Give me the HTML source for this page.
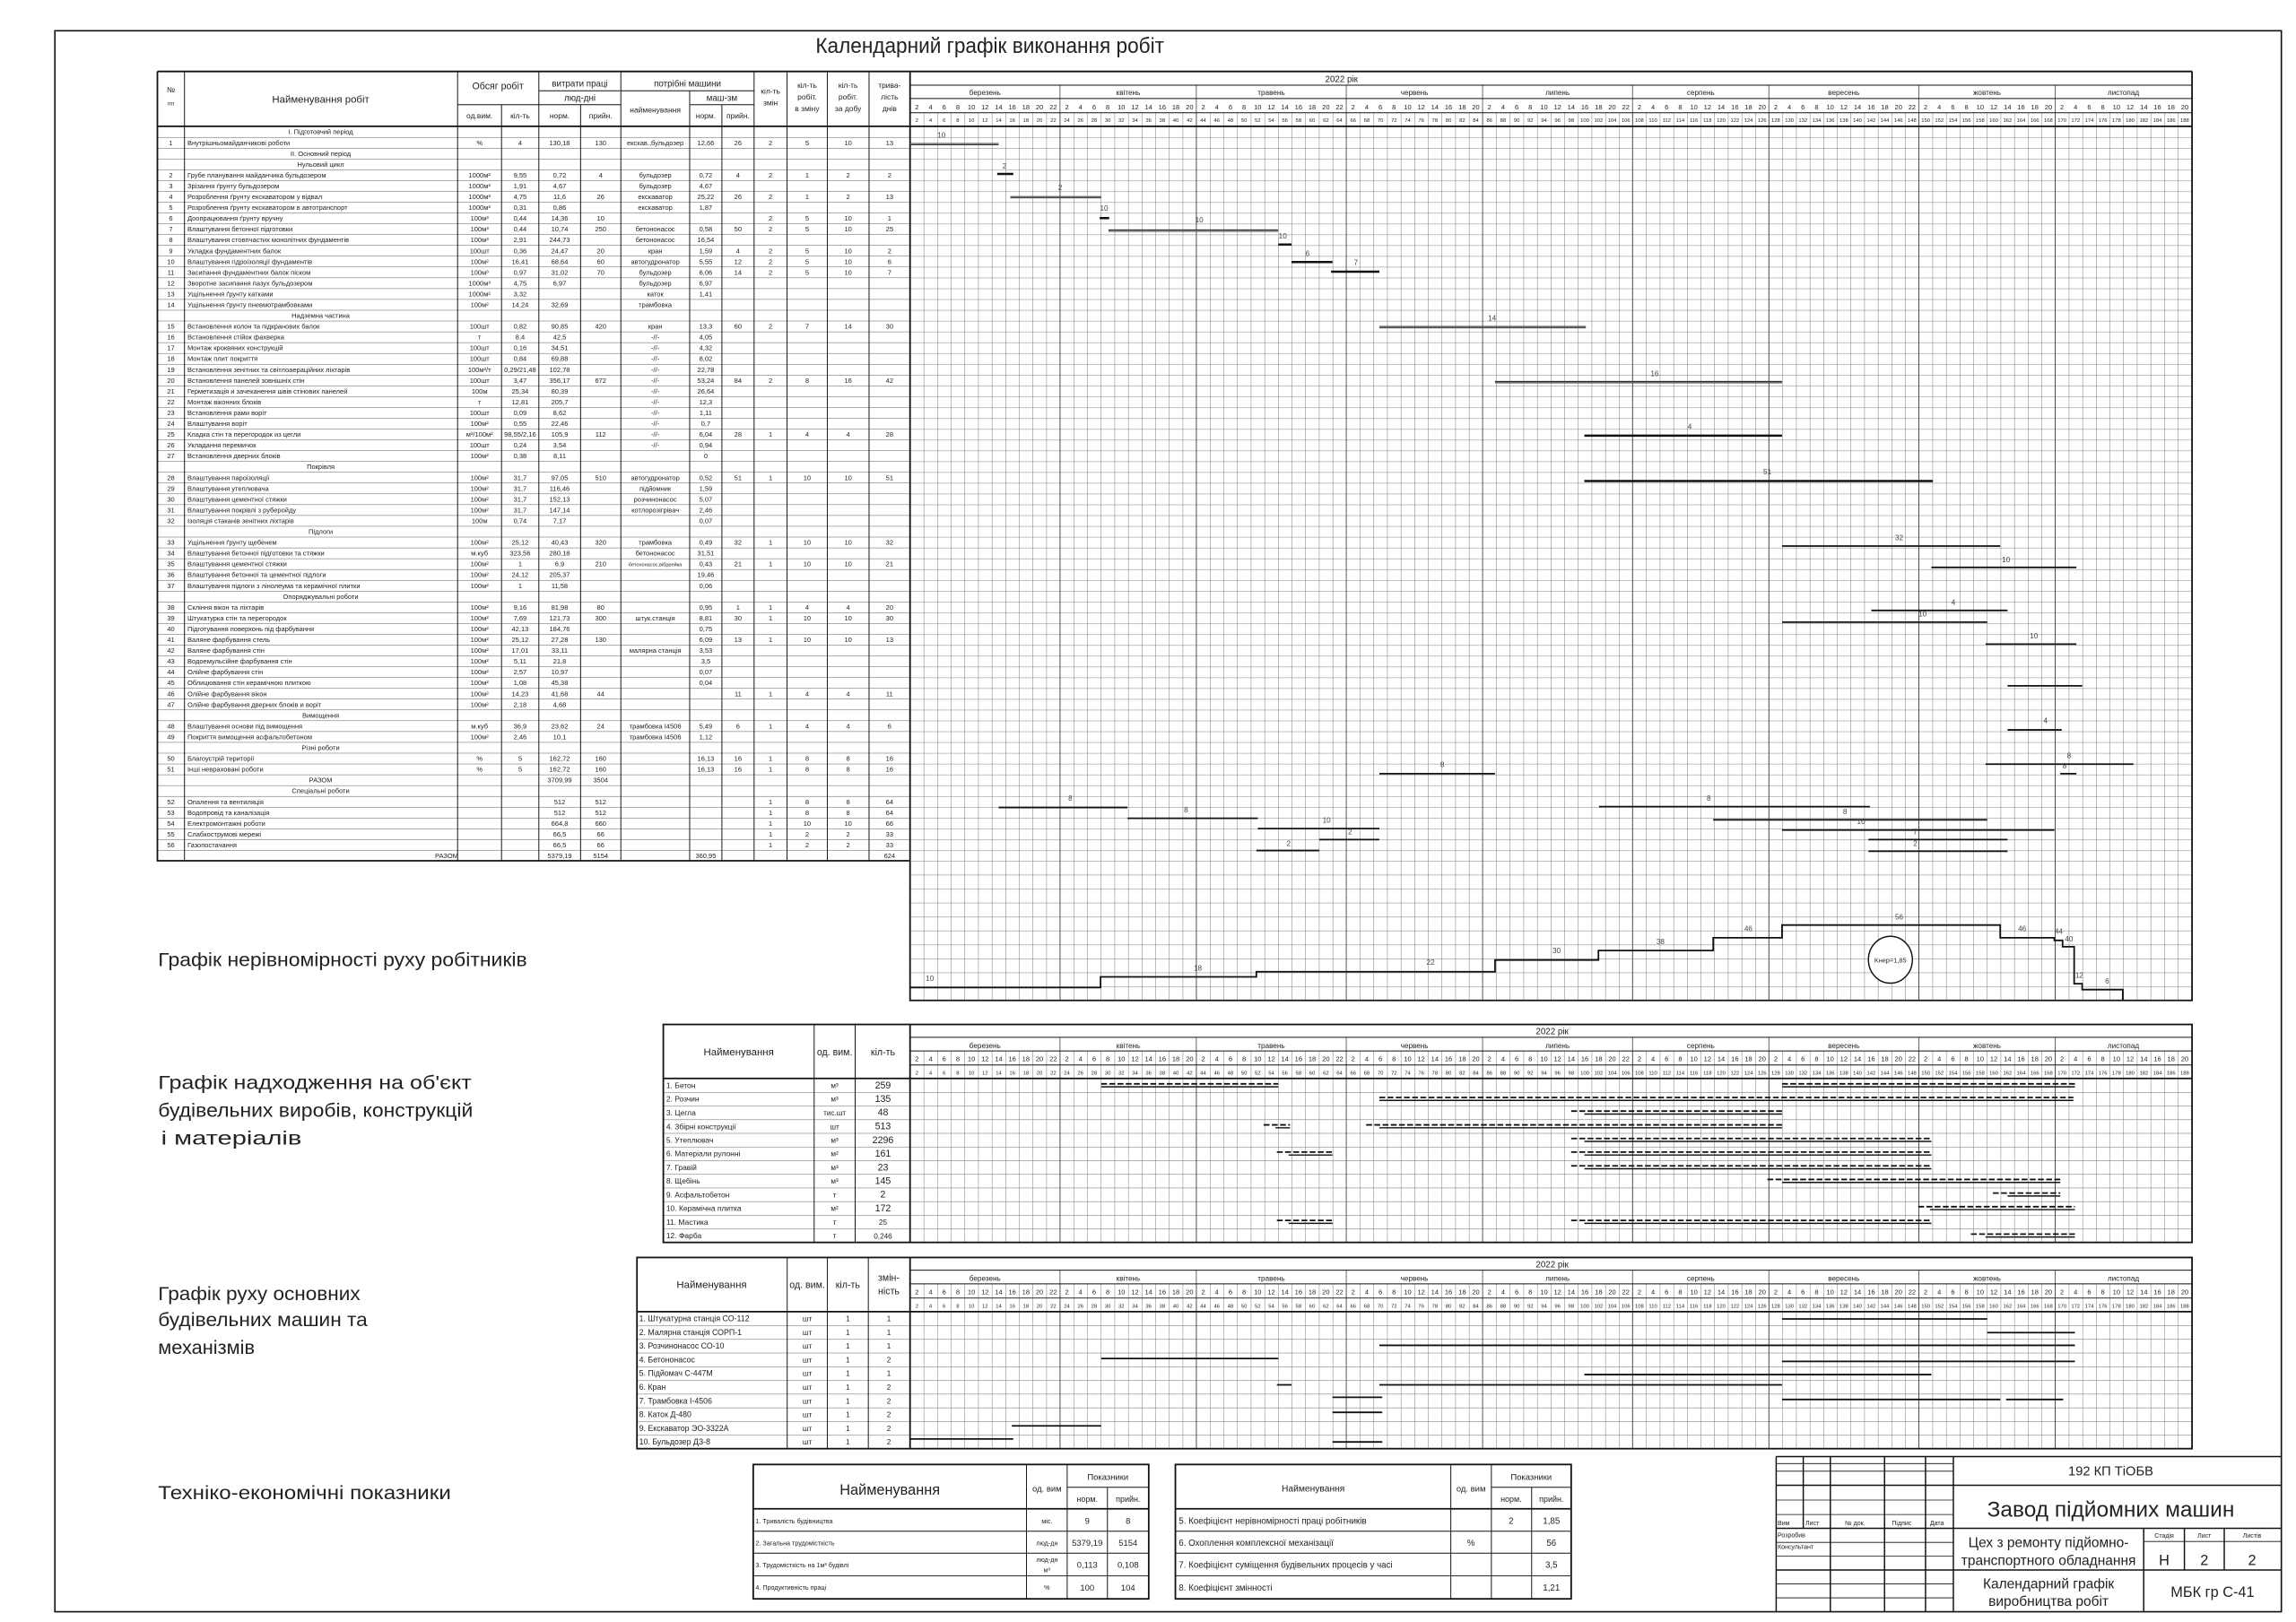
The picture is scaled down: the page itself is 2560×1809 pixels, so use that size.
<!DOCTYPE html>
<html><head><meta charset="utf-8"><style>
html,body{margin:0;padding:0;background:#fff}
svg{display:block}
text{font-family:"Liberation Sans Narrow","Liberation Sans","DejaVu Sans",sans-serif;fill:#222}
.b text{font-size:4.6px;text-anchor:middle}
.b .s{text-anchor:start}
.n text{font-size:4.6px;text-anchor:middle}
.n2 text{font-size:3.6px;text-anchor:middle}
.m text{font-size:5px;text-anchor:middle}
.c{text-anchor:middle}
.lb text{font-size:5px;text-anchor:middle;fill:#444}
</style></head><body>
<svg xmlns="http://www.w3.org/2000/svg" width="2560" height="1809" viewBox="0 0 1568 1108">
<defs>
<pattern id="vcol" x="621.5" y="0" width="9.31" height="10" patternUnits="userSpaceOnUse"><rect x="0" y="0" width="0.3" height="10" fill="#777"/></pattern>
<pattern id="rowsT" x="0" y="86.3" width="10" height="7.38" patternUnits="userSpaceOnUse"><rect x="0" y="0" width="10" height="0.3" fill="#555"/></pattern>
<pattern id="rowsG" x="0" y="86.3" width="10" height="7.38" patternUnits="userSpaceOnUse"><rect x="0" y="0" width="10" height="0.45" fill="#aaa"/></pattern>
<pattern id="rowsW" x="0" y="588" width="10" height="9.54" patternUnits="userSpaceOnUse"><rect x="0" y="0" width="10" height="0.4" fill="#999"/></pattern>
<pattern id="rowsM" x="0" y="736.7" width="10" height="9.33" patternUnits="userSpaceOnUse"><rect x="0" y="0" width="10" height="0.35" fill="#777"/></pattern>
<pattern id="rowsK" x="0" y="896" width="10" height="9.36" patternUnits="userSpaceOnUse"><rect x="0" y="0" width="10" height="0.35" fill="#777"/></pattern>
</defs>

<!-- frame -->
<rect x="37.5" y="21" width="1520.5" height="1080" fill="none" stroke="#111" stroke-width="1"/>
<text x="557" y="36" font-size="15" textLength="238" lengthAdjust="spacingAndGlyphs">Календарний графік виконання робіт</text>

<!-- ===== MAIN TABLE ===== -->
<rect x="107.5" y="86.3" width="514" height="501.7" fill="url(#rowsT)"/>
<rect x="621.5" y="86.3" width="875.5" height="501.7" fill="url(#rowsG)"/>
<rect x="621.5" y="588" width="875.5" height="95.4" fill="url(#rowsW)"/>
<rect x="621.5" y="77" width="875.5" height="606.4" fill="url(#vcol)"/>
<g stroke="#444" stroke-width="0.5">
<path d="M723.9 58.2V683.4M817 58.2V683.4M919.4 58.2V683.4M1012.5 58.2V683.4M1114.9 58.2V683.4M1208 58.2V683.4M1310.4 58.2V683.4M1403.5 58.2V683.4"/>
</g>
<g stroke="#111" stroke-width="0.6" fill="none">
<path d="M107.5 48.8H1497M107.5 86.3H1497M368 62H515M312.5 71.5H424M471 71.5H515M621.5 58.2H1497M621.5 67.3H1497M621.5 77H1497"/>
<path d="M126 48.8V588M312.5 48.8V588M342.5 71.5V588M368 48.8V588M396.5 71.5V588M424 48.8V588M471 62V588M493 71.5V588M515 48.8V588M537.5 48.8V588M565 48.8V588M593.5 48.8V588"/>
</g>
<g stroke="#111" stroke-width="1.1" fill="none">
<path d="M107.5 48.8V588H621.5M621.5 48.8V683.4H1497V48.8M107.5 48.8H1497M107.5 86.3H1497"/>
</g>
<g font-size="5.2">
<text x="116.7" y="63" class="c">№</text><text x="116.7" y="72" class="c" font-size="4">пп</text>
<text x="219" y="70" class="c" font-size="7">Найменування робіт</text>
<text x="340" y="61" class="c" font-size="6.5">Обсяг робіт</text>
<text x="327.5" y="81" class="c">од.вим.</text><text x="355.2" y="81" class="c">кіл-ть</text>
<text x="396" y="59" class="c" font-size="6">витрати праці</text>
<text x="396" y="69" class="c" font-size="6">люд-дні</text>
<text x="382.2" y="81" class="c">норм.</text><text x="410.2" y="81" class="c">прийн.</text>
<text x="469.5" y="59" class="c" font-size="6">потрібні машини</text>
<text x="447.5" y="77" class="c">найменування</text>
<text x="493" y="69" class="c" font-size="6">маш-зм</text>
<text x="482" y="81" class="c">норм.</text><text x="504" y="81" class="c">прийн.</text>
<text x="526.2" y="64" class="c">кіл-ть</text><text x="526.2" y="72" class="c">змін</text>
<text x="551.2" y="60" class="c">кіл-ть</text><text x="551.2" y="68" class="c">робіт.</text><text x="551.2" y="76" class="c">в зміну</text>
<text x="579.2" y="60" class="c">кіл-ть</text><text x="579.2" y="68" class="c">робіт.</text><text x="579.2" y="76" class="c">за добу</text>
<text x="607.5" y="60" class="c">трива-</text><text x="607.5" y="68" class="c">лість</text><text x="607.5" y="76" class="c">днів</text>
</g>
<text x="905" y="56" font-size="6">2022 рік</text>

<!-- month names main -->
<g class="m" id="mn1">
<text x="672.7" y="65">березень</text><text x="770.5" y="65">квітень</text><text x="868.2" y="65">травень</text><text x="966" y="65">червень</text><text x="1063.7" y="65">липень</text><text x="1161.5" y="65">серпень</text><text x="1259.2" y="65">вересень</text><text x="1357" y="65">жовтень</text><text x="1450.1" y="65">листопад</text>
</g>
<g class="n" transform="translate(0,74.6)">
<text x="626.2">2</text><text x="635.5">4</text><text x="644.8">6</text><text x="654.1">8</text><text x="663.4">10</text><text x="672.7">12</text><text x="682.0">14</text><text x="691.3">16</text><text x="700.6">18</text><text x="709.9">20</text><text x="719.3">22</text>
<text x="728.6">2</text><text x="737.9">4</text><text x="747.2">6</text><text x="756.5">8</text><text x="765.8">10</text><text x="775.1">12</text><text x="784.4">14</text><text x="793.7">16</text><text x="803.0">18</text><text x="812.4">20</text>
<text x="821.7">2</text><text x="831.0">4</text><text x="840.3">6</text><text x="849.6">8</text><text x="858.9">10</text><text x="868.2">12</text><text x="877.5">14</text><text x="886.8">16</text><text x="896.1">18</text><text x="905.5">20</text><text x="914.8">22</text>
<text x="924.1">2</text><text x="933.4">4</text><text x="942.7">6</text><text x="952.0">8</text><text x="961.3">10</text><text x="970.6">12</text><text x="979.9">14</text><text x="989.2">16</text><text x="998.6">18</text><text x="1007.9">20</text>
<text x="1017.2">2</text><text x="1026.5">4</text><text x="1035.8">6</text><text x="1045.1">8</text><text x="1054.4">10</text><text x="1063.7">12</text><text x="1073.0">14</text><text x="1082.3">16</text><text x="1091.7">18</text><text x="1101.0">20</text><text x="1110.3">22</text>
<text x="1119.6">2</text><text x="1128.9">4</text><text x="1138.2">6</text><text x="1147.5">8</text><text x="1156.8">10</text><text x="1166.1">12</text><text x="1175.4">14</text><text x="1184.8">16</text><text x="1194.1">18</text><text x="1203.4">20</text>
<text x="1212.7">2</text><text x="1222.0">4</text><text x="1231.3">6</text><text x="1240.6">8</text><text x="1249.9">10</text><text x="1259.2">12</text><text x="1268.5">14</text><text x="1277.9">16</text><text x="1287.2">18</text><text x="1296.5">20</text><text x="1305.8">22</text>
<text x="1315.1">2</text><text x="1324.4">4</text><text x="1333.7">6</text><text x="1343.0">8</text><text x="1352.3">10</text><text x="1361.6">12</text><text x="1371.0">14</text><text x="1380.3">16</text><text x="1389.6">18</text><text x="1398.9">20</text>
<text x="1408.2">2</text><text x="1417.5">4</text><text x="1426.8">6</text><text x="1436.1">8</text><text x="1445.4">10</text><text x="1454.7">12</text><text x="1464.1">14</text><text x="1473.4">16</text><text x="1482.7">18</text><text x="1492.0">20</text>
</g>
<g class="n2" transform="translate(0,83.2)">
<text x="626.2">2</text><text x="635.5">4</text><text x="644.8">6</text><text x="654.1">8</text><text x="663.4">10</text><text x="672.7">12</text><text x="682.0">14</text><text x="691.3">16</text><text x="700.6">18</text><text x="709.9">20</text><text x="719.3">22</text><text x="728.6">24</text><text x="737.9">26</text><text x="747.2">28</text><text x="756.5">30</text><text x="765.8">32</text><text x="775.1">34</text><text x="784.4">36</text><text x="793.7">38</text><text x="803.0">40</text><text x="812.4">42</text><text x="821.7">44</text><text x="831.0">46</text><text x="840.3">48</text><text x="849.6">50</text><text x="858.9">52</text><text x="868.2">54</text><text x="877.5">56</text><text x="886.8">58</text><text x="896.1">60</text><text x="905.5">62</text><text x="914.8">64</text><text x="924.1">66</text><text x="933.4">68</text><text x="942.7">70</text><text x="952.0">72</text><text x="961.3">74</text><text x="970.6">76</text><text x="979.9">78</text><text x="989.2">80</text><text x="998.6">82</text><text x="1007.9">84</text><text x="1017.2">86</text><text x="1026.5">88</text><text x="1035.8">90</text><text x="1045.1">92</text><text x="1054.4">94</text><text x="1063.7">96</text><text x="1073.0">98</text><text x="1082.3">100</text><text x="1091.7">102</text><text x="1101.0">104</text><text x="1110.3">106</text><text x="1119.6">108</text><text x="1128.9">110</text><text x="1138.2">112</text><text x="1147.5">114</text><text x="1156.8">116</text><text x="1166.1">118</text><text x="1175.4">120</text><text x="1184.8">122</text><text x="1194.1">124</text><text x="1203.4">126</text><text x="1212.7">128</text><text x="1222.0">130</text><text x="1231.3">132</text><text x="1240.6">134</text><text x="1249.9">136</text><text x="1259.2">138</text><text x="1268.5">140</text><text x="1277.9">142</text><text x="1287.2">144</text><text x="1296.5">146</text><text x="1305.8">148</text><text x="1315.1">150</text><text x="1324.4">152</text><text x="1333.7">154</text><text x="1343.0">156</text><text x="1352.3">158</text><text x="1361.6">160</text><text x="1371.0">162</text><text x="1380.3">164</text><text x="1389.6">166</text><text x="1398.9">168</text><text x="1408.2">170</text><text x="1417.5">172</text><text x="1426.8">174</text><text x="1436.1">176</text><text x="1445.4">178</text><text x="1454.7">180</text><text x="1464.1">182</text><text x="1473.4">184</text><text x="1482.7">186</text><text x="1492.0">188</text>
</g>

<!-- table body -->
<g class="b">
<text y="91.7" x="219">І. Підготовчий період</text>
<text y="99.08"><tspan x="116.7">1</tspan><tspan x="128" class="s">Внутрішньомайданчикові роботи</tspan><tspan x="327.5">%</tspan><tspan x="355.2">4</tspan><tspan x="382.2">130,18</tspan><tspan x="410.2">130</tspan><tspan x="447.5">екскав.,бульдозер</tspan><tspan x="482">12,66</tspan><tspan x="504">26</tspan><tspan x="526.2">2</tspan><tspan x="551.2">5</tspan><tspan x="579.2">10</tspan><tspan x="607.5">13</tspan></text>
<text y="106.46" x="219">ІІ. Основний період</text>
<text y="113.84" x="219">Нульовий цикл</text>
<text y="121.22"><tspan x="116.7">2</tspan><tspan x="128" class="s">Грубе планування майданчика бульдозером</tspan><tspan x="327.5">1000м²</tspan><tspan x="355.2">9,55</tspan><tspan x="382.2">0,72</tspan><tspan x="410.2">4</tspan><tspan x="447.5">бульдозер</tspan><tspan x="482">0,72</tspan><tspan x="504">4</tspan><tspan x="526.2">2</tspan><tspan x="551.2">1</tspan><tspan x="579.2">2</tspan><tspan x="607.5">2</tspan></text>
<text y="128.6"><tspan x="116.7">3</tspan><tspan x="128" class="s">Зрізання ґрунту бульдозером</tspan><tspan x="327.5">1000м³</tspan><tspan x="355.2">1,91</tspan><tspan x="382.2">4,67</tspan><tspan x="447.5">бульдозер</tspan><tspan x="482">4,67</tspan></text>
<text y="135.98"><tspan x="116.7">4</tspan><tspan x="128" class="s">Розроблення ґрунту екскаватором у відвал</tspan><tspan x="327.5">1000м³</tspan><tspan x="355.2">4,75</tspan><tspan x="382.2">11,6</tspan><tspan x="410.2">26</tspan><tspan x="447.5">екскаватор</tspan><tspan x="482">25,22</tspan><tspan x="504">26</tspan><tspan x="526.2">2</tspan><tspan x="551.2">1</tspan><tspan x="579.2">2</tspan><tspan x="607.5">13</tspan></text>
<text y="143.36"><tspan x="116.7">5</tspan><tspan x="128" class="s">Розроблення ґрунту екскаватором в автотранспорт</tspan><tspan x="327.5">1000м³</tspan><tspan x="355.2">0,31</tspan><tspan x="382.2">0,86</tspan><tspan x="447.5">екскаватор</tspan><tspan x="482">1,87</tspan></text>
<text y="150.74"><tspan x="116.7">6</tspan><tspan x="128" class="s">Доопрацювання ґрунту вручну</tspan><tspan x="327.5">100м³</tspan><tspan x="355.2">0,44</tspan><tspan x="382.2">14,36</tspan><tspan x="410.2">10</tspan><tspan x="526.2">2</tspan><tspan x="551.2">5</tspan><tspan x="579.2">10</tspan><tspan x="607.5">1</tspan></text>
<text y="158.12"><tspan x="116.7">7</tspan><tspan x="128" class="s">Влаштування бетонної підготовки</tspan><tspan x="327.5">100м³</tspan><tspan x="355.2">0,44</tspan><tspan x="382.2">10,74</tspan><tspan x="410.2">250</tspan><tspan x="447.5">бетононасос</tspan><tspan x="482">0,58</tspan><tspan x="504">50</tspan><tspan x="526.2">2</tspan><tspan x="551.2">5</tspan><tspan x="579.2">10</tspan><tspan x="607.5">25</tspan></text>
<text y="165.5"><tspan x="116.7">8</tspan><tspan x="128" class="s">Влаштування стовпчастих монолітних фундаментів</tspan><tspan x="327.5">100м³</tspan><tspan x="355.2">2,91</tspan><tspan x="382.2">244,73</tspan><tspan x="447.5">бетононасос</tspan><tspan x="482">16,54</tspan></text>
<text y="172.88"><tspan x="116.7">9</tspan><tspan x="128" class="s">Укладка фундаментних балок</tspan><tspan x="327.5">100шт</tspan><tspan x="355.2">0,36</tspan><tspan x="382.2">24,47</tspan><tspan x="410.2">20</tspan><tspan x="447.5">кран</tspan><tspan x="482">1,59</tspan><tspan x="504">4</tspan><tspan x="526.2">2</tspan><tspan x="551.2">5</tspan><tspan x="579.2">10</tspan><tspan x="607.5">2</tspan></text>
<text y="180.26"><tspan x="116.7">10</tspan><tspan x="128" class="s">Влаштування гідроізоляції фундаментів</tspan><tspan x="327.5">100м²</tspan><tspan x="355.2">16,41</tspan><tspan x="382.2">68,64</tspan><tspan x="410.2">60</tspan><tspan x="447.5">автогудронатор</tspan><tspan x="482">5,55</tspan><tspan x="504">12</tspan><tspan x="526.2">2</tspan><tspan x="551.2">5</tspan><tspan x="579.2">10</tspan><tspan x="607.5">6</tspan></text>
<text y="187.64"><tspan x="116.7">11</tspan><tspan x="128" class="s">Засипання фундаментних балок піском</tspan><tspan x="327.5">100м³</tspan><tspan x="355.2">0,97</tspan><tspan x="382.2">31,02</tspan><tspan x="410.2">70</tspan><tspan x="447.5">бульдозер</tspan><tspan x="482">6,06</tspan><tspan x="504">14</tspan><tspan x="526.2">2</tspan><tspan x="551.2">5</tspan><tspan x="579.2">10</tspan><tspan x="607.5">7</tspan></text>
<text y="195.02"><tspan x="116.7">12</tspan><tspan x="128" class="s">Зворотне засипання пазух бульдозером</tspan><tspan x="327.5">1000м³</tspan><tspan x="355.2">4,75</tspan><tspan x="382.2">6,97</tspan><tspan x="447.5">бульдозер</tspan><tspan x="482">6,97</tspan></text>
<text y="202.4"><tspan x="116.7">13</tspan><tspan x="128" class="s">Ущільнення ґрунту катками</tspan><tspan x="327.5">1000м²</tspan><tspan x="355.2">3,32</tspan><tspan x="447.5">каток</tspan><tspan x="482">1,41</tspan></text>
<text y="209.78"><tspan x="116.7">14</tspan><tspan x="128" class="s">Ущільнення ґрунту пневмотрамбовками</tspan><tspan x="327.5">100м²</tspan><tspan x="355.2">14,24</tspan><tspan x="382.2">32,69</tspan><tspan x="447.5">трамбовка</tspan></text>
<text y="217.16" x="219">Надземна частина</text>
<text y="224.54"><tspan x="116.7">15</tspan><tspan x="128" class="s">Встановлення колон та підкранових балок</tspan><tspan x="327.5">100шт</tspan><tspan x="355.2">0,82</tspan><tspan x="382.2">90,85</tspan><tspan x="410.2">420</tspan><tspan x="447.5">кран</tspan><tspan x="482">13,3</tspan><tspan x="504">60</tspan><tspan x="526.2">2</tspan><tspan x="551.2">7</tspan><tspan x="579.2">14</tspan><tspan x="607.5">30</tspan></text>
<text y="231.92"><tspan x="116.7">16</tspan><tspan x="128" class="s">Встановлення стійок фахверка</tspan><tspan x="327.5">т</tspan><tspan x="355.2">8,4</tspan><tspan x="382.2">42,5</tspan><tspan x="447.5">-//-</tspan><tspan x="482">4,05</tspan></text>
<text y="239.3"><tspan x="116.7">17</tspan><tspan x="128" class="s">Монтаж кроквяних конструкцій</tspan><tspan x="327.5">100шт</tspan><tspan x="355.2">0,16</tspan><tspan x="382.2">34,51</tspan><tspan x="447.5">-//-</tspan><tspan x="482">4,32</tspan></text>
<text y="246.68"><tspan x="116.7">18</tspan><tspan x="128" class="s">Монтаж плит покриття</tspan><tspan x="327.5">100шт</tspan><tspan x="355.2">0,84</tspan><tspan x="382.2">69,88</tspan><tspan x="447.5">-//-</tspan><tspan x="482">8,02</tspan></text>
<text y="254.06"><tspan x="116.7">19</tspan><tspan x="128" class="s">Встановлення зенітних та світлоаераційних ліхтарів</tspan><tspan x="327.5">100м²/т</tspan><tspan x="355.2">0,29/21,48</tspan><tspan x="382.2">102,78</tspan><tspan x="447.5">-//-</tspan><tspan x="482">22,78</tspan></text>
<text y="261.44"><tspan x="116.7">20</tspan><tspan x="128" class="s">Встановлення панелей зовнішніх стін</tspan><tspan x="327.5">100шт</tspan><tspan x="355.2">3,47</tspan><tspan x="382.2">356,17</tspan><tspan x="410.2">672</tspan><tspan x="447.5">-//-</tspan><tspan x="482">53,24</tspan><tspan x="504">84</tspan><tspan x="526.2">2</tspan><tspan x="551.2">8</tspan><tspan x="579.2">16</tspan><tspan x="607.5">42</tspan></text>
<text y="268.82"><tspan x="116.7">21</tspan><tspan x="128" class="s">Герметизація и зачеканення швів стінових панелей</tspan><tspan x="327.5">100м</tspan><tspan x="355.2">25,34</tspan><tspan x="382.2">80,39</tspan><tspan x="447.5">-//-</tspan><tspan x="482">26,64</tspan></text>
<text y="276.2"><tspan x="116.7">22</tspan><tspan x="128" class="s">Монтаж віконних блоків</tspan><tspan x="327.5">т</tspan><tspan x="355.2">12,81</tspan><tspan x="382.2">205,7</tspan><tspan x="447.5">-//-</tspan><tspan x="482">12,3</tspan></text>
<text y="283.58"><tspan x="116.7">23</tspan><tspan x="128" class="s">Встановлення рами воріт</tspan><tspan x="327.5">100шт</tspan><tspan x="355.2">0,09</tspan><tspan x="382.2">8,62</tspan><tspan x="447.5">-//-</tspan><tspan x="482">1,11</tspan></text>
<text y="290.96"><tspan x="116.7">24</tspan><tspan x="128" class="s">Влаштування воріт</tspan><tspan x="327.5">100м²</tspan><tspan x="355.2">0,55</tspan><tspan x="382.2">22,46</tspan><tspan x="447.5">-//-</tspan><tspan x="482">0,7</tspan></text>
<text y="298.34"><tspan x="116.7">25</tspan><tspan x="128" class="s">Кладка стін та перегородок из цегли</tspan><tspan x="327.5">м³/100м²</tspan><tspan x="355.2">98,55/2,16</tspan><tspan x="382.2">105,9</tspan><tspan x="410.2">112</tspan><tspan x="447.5">-//-</tspan><tspan x="482">6,04</tspan><tspan x="504">28</tspan><tspan x="526.2">1</tspan><tspan x="551.2">4</tspan><tspan x="579.2">4</tspan><tspan x="607.5">28</tspan></text>
<text y="305.72"><tspan x="116.7">26</tspan><tspan x="128" class="s">Укладання перемичок</tspan><tspan x="327.5">100шт</tspan><tspan x="355.2">0,24</tspan><tspan x="382.2">3,54</tspan><tspan x="447.5">-//-</tspan><tspan x="482">0,94</tspan></text>
<text y="313.1"><tspan x="116.7">27</tspan><tspan x="128" class="s">Встановлення дверних блоків</tspan><tspan x="327.5">100м²</tspan><tspan x="355.2">0,38</tspan><tspan x="382.2">8,11</tspan><tspan x="482">0</tspan></text>
<text y="320.48" x="219">Покрівля</text>
<text y="327.86"><tspan x="116.7">28</tspan><tspan x="128" class="s">Влаштування пароізоляції</tspan><tspan x="327.5">100м²</tspan><tspan x="355.2">31,7</tspan><tspan x="382.2">97,05</tspan><tspan x="410.2">510</tspan><tspan x="447.5">автогудронатор</tspan><tspan x="482">0,52</tspan><tspan x="504">51</tspan><tspan x="526.2">1</tspan><tspan x="551.2">10</tspan><tspan x="579.2">10</tspan><tspan x="607.5">51</tspan></text>
<text y="335.24"><tspan x="116.7">29</tspan><tspan x="128" class="s">Влаштування утеплювача</tspan><tspan x="327.5">100м²</tspan><tspan x="355.2">31,7</tspan><tspan x="382.2">116,46</tspan><tspan x="447.5">підйомник</tspan><tspan x="482">1,59</tspan></text>
<text y="342.62"><tspan x="116.7">30</tspan><tspan x="128" class="s">Влаштування цементної стяжки</tspan><tspan x="327.5">100м²</tspan><tspan x="355.2">31,7</tspan><tspan x="382.2">152,13</tspan><tspan x="447.5">розчинонасос</tspan><tspan x="482">5,07</tspan></text>
<text y="350.0"><tspan x="116.7">31</tspan><tspan x="128" class="s">Влаштування покрівлі з руберойду</tspan><tspan x="327.5">100м²</tspan><tspan x="355.2">31,7</tspan><tspan x="382.2">147,14</tspan><tspan x="447.5">котлорозігрівач</tspan><tspan x="482">2,46</tspan></text>
<text y="357.38"><tspan x="116.7">32</tspan><tspan x="128" class="s">Ізоляція стаканів зенітних ліхтарів</tspan><tspan x="327.5">100м</tspan><tspan x="355.2">0,74</tspan><tspan x="382.2">7,17</tspan><tspan x="482">0,07</tspan></text>
<text y="364.76" x="219">Підлоги</text>
<text y="372.14"><tspan x="116.7">33</tspan><tspan x="128" class="s">Ущільнення ґрунту щебенем</tspan><tspan x="327.5">100м²</tspan><tspan x="355.2">25,12</tspan><tspan x="382.2">40,43</tspan><tspan x="410.2">320</tspan><tspan x="447.5">трамбовка</tspan><tspan x="482">0,49</tspan><tspan x="504">32</tspan><tspan x="526.2">1</tspan><tspan x="551.2">10</tspan><tspan x="579.2">10</tspan><tspan x="607.5">32</tspan></text>
<text y="379.52"><tspan x="116.7">34</tspan><tspan x="128" class="s">Влаштування бетонної підготовки та стяжки</tspan><tspan x="327.5">м.куб</tspan><tspan x="355.2">323,56</tspan><tspan x="382.2">280,18</tspan><tspan x="447.5">бетононасос</tspan><tspan x="482">31,51</tspan></text>
<text y="386.9"><tspan x="116.7">35</tspan><tspan x="128" class="s">Влаштування цементної стяжки</tspan><tspan x="327.5">100м²</tspan><tspan x="355.2">1</tspan><tspan x="382.2">6,9</tspan><tspan x="410.2">210</tspan><tspan x="447.5" font-size="3.4">бетононасос,вібррейка</tspan><tspan x="482">0,43</tspan><tspan x="504">21</tspan><tspan x="526.2">1</tspan><tspan x="551.2">10</tspan><tspan x="579.2">10</tspan><tspan x="607.5">21</tspan></text>
<text y="394.28"><tspan x="116.7">36</tspan><tspan x="128" class="s">Влаштування бетонної та цементної підлоги</tspan><tspan x="327.5">100м²</tspan><tspan x="355.2">24,12</tspan><tspan x="382.2">205,37</tspan><tspan x="482">19,46</tspan></text>
<text y="401.66"><tspan x="116.7">37</tspan><tspan x="128" class="s">Влаштування підлоги з лінолеума та керамічної плитки</tspan><tspan x="327.5">100м²</tspan><tspan x="355.2">1</tspan><tspan x="382.2">11,58</tspan><tspan x="482">0,06</tspan></text>
<text y="409.04" x="219">Опоряджувальні роботи</text>
<text y="416.42"><tspan x="116.7">38</tspan><tspan x="128" class="s">Скління вікон та ліхтарів</tspan><tspan x="327.5">100м²</tspan><tspan x="355.2">9,16</tspan><tspan x="382.2">81,98</tspan><tspan x="410.2">80</tspan><tspan x="482">0,95</tspan><tspan x="504">1</tspan><tspan x="526.2">1</tspan><tspan x="551.2">4</tspan><tspan x="579.2">4</tspan><tspan x="607.5">20</tspan></text>
<text y="423.8"><tspan x="116.7">39</tspan><tspan x="128" class="s">Штукатурка стін та перегородок</tspan><tspan x="327.5">100м²</tspan><tspan x="355.2">7,69</tspan><tspan x="382.2">121,73</tspan><tspan x="410.2">300</tspan><tspan x="447.5">штук.станція</tspan><tspan x="482">8,81</tspan><tspan x="504">30</tspan><tspan x="526.2">1</tspan><tspan x="551.2">10</tspan><tspan x="579.2">10</tspan><tspan x="607.5">30</tspan></text>
<text y="431.18"><tspan x="116.7">40</tspan><tspan x="128" class="s">Підготування поверхонь під фарбування</tspan><tspan x="327.5">100м²</tspan><tspan x="355.2">42,13</tspan><tspan x="382.2">184,76</tspan><tspan x="482">0,75</tspan></text>
<text y="438.56"><tspan x="116.7">41</tspan><tspan x="128" class="s">Валяне фарбування стель</tspan><tspan x="327.5">100м²</tspan><tspan x="355.2">25,12</tspan><tspan x="382.2">27,28</tspan><tspan x="410.2">130</tspan><tspan x="482">6,09</tspan><tspan x="504">13</tspan><tspan x="526.2">1</tspan><tspan x="551.2">10</tspan><tspan x="579.2">10</tspan><tspan x="607.5">13</tspan></text>
<text y="445.94"><tspan x="116.7">42</tspan><tspan x="128" class="s">Валяне фарбування стін</tspan><tspan x="327.5">100м²</tspan><tspan x="355.2">17,01</tspan><tspan x="382.2">33,11</tspan><tspan x="447.5">малярна станція</tspan><tspan x="482">3,53</tspan></text>
<text y="453.32"><tspan x="116.7">43</tspan><tspan x="128" class="s">Водоемульсійне фарбування стін</tspan><tspan x="327.5">100м²</tspan><tspan x="355.2">5,11</tspan><tspan x="382.2">21,8</tspan><tspan x="482">3,5</tspan></text>
<text y="460.7"><tspan x="116.7">44</tspan><tspan x="128" class="s">Олійне фарбування стін</tspan><tspan x="327.5">100м²</tspan><tspan x="355.2">2,57</tspan><tspan x="382.2">10,97</tspan><tspan x="482">0,07</tspan></text>
<text y="468.08"><tspan x="116.7">45</tspan><tspan x="128" class="s">Облицювання стін керамічною плиткою</tspan><tspan x="327.5">100м²</tspan><tspan x="355.2">1,08</tspan><tspan x="382.2">45,38</tspan><tspan x="482">0,04</tspan></text>
<text y="475.46"><tspan x="116.7">46</tspan><tspan x="128" class="s">Олійне фарбування вікон</tspan><tspan x="327.5">100м²</tspan><tspan x="355.2">14,23</tspan><tspan x="382.2">41,68</tspan><tspan x="410.2">44</tspan><tspan x="504">11</tspan><tspan x="526.2">1</tspan><tspan x="551.2">4</tspan><tspan x="579.2">4</tspan><tspan x="607.5">11</tspan></text>
<text y="482.84"><tspan x="116.7">47</tspan><tspan x="128" class="s">Олійне фарбування дверних блоків и воріт</tspan><tspan x="327.5">100м²</tspan><tspan x="355.2">2,18</tspan><tspan x="382.2">4,68</tspan></text>
<text y="490.22" x="219">Вимощення</text>
<text y="497.6"><tspan x="116.7">48</tspan><tspan x="128" class="s">Влаштування основи під вимощення</tspan><tspan x="327.5">м.куб</tspan><tspan x="355.2">36,9</tspan><tspan x="382.2">23,62</tspan><tspan x="410.2">24</tspan><tspan x="447.5">трамбовка I4506</tspan><tspan x="482">5,49</tspan><tspan x="504">6</tspan><tspan x="526.2">1</tspan><tspan x="551.2">4</tspan><tspan x="579.2">4</tspan><tspan x="607.5">6</tspan></text>
<text y="504.98"><tspan x="116.7">49</tspan><tspan x="128" class="s">Покриття вимощення асфальтобетоном</tspan><tspan x="327.5">100м²</tspan><tspan x="355.2">2,46</tspan><tspan x="382.2">10,1</tspan><tspan x="447.5">трамбовка I4506</tspan><tspan x="482">1,12</tspan></text>
<text y="512.36" x="219">Різні роботи</text>
<text y="519.74"><tspan x="116.7">50</tspan><tspan x="128" class="s">Благоустрій території</tspan><tspan x="327.5">%</tspan><tspan x="355.2">5</tspan><tspan x="382.2">162,72</tspan><tspan x="410.2">160</tspan><tspan x="482">16,13</tspan><tspan x="504">16</tspan><tspan x="526.2">1</tspan><tspan x="551.2">8</tspan><tspan x="579.2">8</tspan><tspan x="607.5">16</tspan></text>
<text y="527.12"><tspan x="116.7">51</tspan><tspan x="128" class="s">Інші невраховані роботи</tspan><tspan x="327.5">%</tspan><tspan x="355.2">5</tspan><tspan x="382.2">162,72</tspan><tspan x="410.2">160</tspan><tspan x="482">16,13</tspan><tspan x="504">16</tspan><tspan x="526.2">1</tspan><tspan x="551.2">8</tspan><tspan x="579.2">8</tspan><tspan x="607.5">16</tspan></text>
<text y="534.5"><tspan x="219">РАЗОМ</tspan><tspan x="382.2">3709,99</tspan><tspan x="410.2">3504</tspan></text>
<text y="541.88" x="219">Спеціальні роботи</text>
<text y="549.26"><tspan x="116.7">52</tspan><tspan x="128" class="s">Опалення та вентиляція</tspan><tspan x="382.2">512</tspan><tspan x="410.2">512</tspan><tspan x="526.2">1</tspan><tspan x="551.2">8</tspan><tspan x="579.2">8</tspan><tspan x="607.5">64</tspan></text>
<text y="556.64"><tspan x="116.7">53</tspan><tspan x="128" class="s">Водопровід та каналізація</tspan><tspan x="382.2">512</tspan><tspan x="410.2">512</tspan><tspan x="526.2">1</tspan><tspan x="551.2">8</tspan><tspan x="579.2">8</tspan><tspan x="607.5">64</tspan></text>
<text y="564.02"><tspan x="116.7">54</tspan><tspan x="128" class="s">Електромонтажні роботи</tspan><tspan x="382.2">664,8</tspan><tspan x="410.2">660</tspan><tspan x="526.2">1</tspan><tspan x="551.2">10</tspan><tspan x="579.2">10</tspan><tspan x="607.5">66</tspan></text>
<text y="571.4"><tspan x="116.7">55</tspan><tspan x="128" class="s">Слабкострумові мережі</tspan><tspan x="382.2">66,5</tspan><tspan x="410.2">66</tspan><tspan x="526.2">1</tspan><tspan x="551.2">2</tspan><tspan x="579.2">2</tspan><tspan x="607.5">33</tspan></text>
<text y="578.78"><tspan x="116.7">56</tspan><tspan x="128" class="s">Газопостачання</tspan><tspan x="382.2">66,5</tspan><tspan x="410.2">66</tspan><tspan x="526.2">1</tspan><tspan x="551.2">2</tspan><tspan x="579.2">2</tspan><tspan x="607.5">33</tspan></text>
<text y="586.16"><tspan x="305">РАЗОМ</tspan><tspan x="382.2">5379,19</tspan><tspan x="410.2">5154</tspan><tspan x="482">360,95</tspan><tspan x="607.5">624</tspan></text>
</g>

<!-- main gantt bars -->
<g stroke="#111" stroke-width="1.5" fill="none">
<path d="M621.5 98.5H682M681 118.8H692M690 134.7H752M751 149H757.5M757 157.5H873M873 167H882M882 179H910M909 185.6H942M942 223.5H1083M1021 261H1217M1082 297.6H1217M1082 328.6H1320"/>
<path stroke-width="1.1" d="M1217 373H1366M1319 387.6H1418M1278 417H1371M1217 425H1357M1356 440H1418M1371 468.5H1422M1371 498.6H1408M1356 522H1457M1407 528.5H1418M942 528.5H1021M682 551.6H770M1092 551H1277M770 559H859M1170 560H1357M859 566H942M1217 567H1403M901 573.5H942M1276 573.5H1371M858 581H901M1276 581.5H1371"/>
</g>
<g stroke="#fff" stroke-width="0.35" fill="none">
<path d="M621.5 98.5H682M690 134.7H752M757 157.5H873M942 223.5H1083M1021 261H1217"/>
</g>
<g class="lb">
<text x="643" y="94">10</text><text x="686" y="115">2</text><text x="724" y="130">2</text><text x="754" y="144">10</text><text x="819" y="152">10</text><text x="876" y="163">10</text><text x="893" y="175">6</text><text x="926" y="181">7</text><text x="1019" y="219">14</text><text x="1130" y="257">16</text><text x="1154" y="293">4</text><text x="1207" y="324">51</text><text x="1297" y="369">32</text><text x="1370" y="384">10</text><text x="1334" y="413">4</text><text x="1313" y="421">10</text><text x="1389" y="436">10</text><text x="1397" y="494">4</text><text x="1413" y="518">8</text><text x="1410" y="525">8</text><text x="985" y="524">8</text><text x="731" y="547">8</text><text x="1167" y="547">8</text><text x="810" y="555">8</text><text x="1260" y="556">8</text><text x="906" y="562">10</text><text x="1271" y="563">10</text><text x="1308" y="570">7</text><text x="922" y="570">2</text><text x="880" y="578">2</text><text x="1308" y="578">2</text>
</g>

<!-- workers graph -->
<path d="M621.5 674.6H751.6V667.3H858V663.8H1021V655.8H1091.6V649.3H1170V640.6H1217V631.9H1366V640.6H1403V642.4H1408.6V646.7H1416.5V672H1422V676H1449.7V683.4" fill="none" stroke="#111" stroke-width="1.1"/>
<ellipse cx="1291" cy="655.6" rx="15" ry="16" fill="#fff" stroke="#111" stroke-width="0.9"/>
<text x="1291" y="657.5" font-size="4.5" class="c">Kнер=1,85</text>
<g class="lb">
<text x="635" y="670">10</text><text x="818" y="663">18</text><text x="977" y="659">22</text><text x="1063" y="651">30</text><text x="1134" y="645">38</text><text x="1194" y="636">46</text><text x="1297" y="628">56</text><text x="1381" y="636">46</text><text x="1406" y="638">44</text><text x="1413" y="643">40</text><text x="1420" y="668">12</text><text x="1439" y="672">6</text>
</g>

<!-- left labels -->
<g font-size="13">
<text x="108" y="660" textLength="252" lengthAdjust="spacingAndGlyphs">Графік нерівномірності руху робітників</text>
<text x="108" y="744" textLength="214" lengthAdjust="spacingAndGlyphs">Графік надходження на об'єкт</text>
<text x="108" y="763" textLength="215" lengthAdjust="spacingAndGlyphs">будівельних виробів, конструкцій</text>
<text x="110" y="782" textLength="96" lengthAdjust="spacingAndGlyphs">і матеріалів</text>
<text x="108" y="888" textLength="138" lengthAdjust="spacingAndGlyphs">Графік руху основних</text>
<text x="108" y="906" textLength="143" lengthAdjust="spacingAndGlyphs">будівельних машин та</text>
<text x="108" y="925" textLength="66" lengthAdjust="spacingAndGlyphs">механізмів</text>
<text x="108" y="1024" textLength="200" lengthAdjust="spacingAndGlyphs">Техніко-економічні показники</text>
</g>

<!-- ===== MATERIALS ===== -->
<rect x="453" y="736.7" width="1044" height="112" fill="url(#rowsM)"/>
<rect x="621.5" y="717.9" width="875.5" height="130.8" fill="url(#vcol)"/>
<g stroke="#444" stroke-width="0.5"><path d="M723.9 708.6V848.7M817 708.6V848.7M919.4 708.6V848.7M1012.5 708.6V848.7M1114.9 708.6V848.7M1208 708.6V848.7M1310.4 708.6V848.7M1403.5 708.6V848.7"/></g>
<g stroke="#111" stroke-width="0.6" fill="none"><path d="M621.5 708.6H1497M621.5 717.9H1497M621.5 727.5H1497M556 699.8V848.7M584 699.8V848.7"/></g>
<g stroke="#111" stroke-width="1.1" fill="none"><rect x="453" y="699.8" width="1044" height="148.9"/><path d="M453 736.7H1497M621.5 699.8V848.7"/></g>
<text x="1060" y="706.5" font-size="6" class="c">2022 рік</text>
<g class="m" transform="translate(0,651)">
<text x="672.7" y="65">березень</text><text x="770.5" y="65">квітень</text><text x="868.2" y="65">травень</text><text x="966" y="65">червень</text><text x="1063.7" y="65">липень</text><text x="1161.5" y="65">серпень</text><text x="1259.2" y="65">вересень</text><text x="1357" y="65">жовтень</text><text x="1450.1" y="65">листопад</text>
</g>
<g class="n" transform="translate(0,725)">
<text x="626.2">2</text><text x="635.5">4</text><text x="644.8">6</text><text x="654.1">8</text><text x="663.4">10</text><text x="672.7">12</text><text x="682.0">14</text><text x="691.3">16</text><text x="700.6">18</text><text x="709.9">20</text><text x="719.3">22</text>
<text x="728.6">2</text><text x="737.9">4</text><text x="747.2">6</text><text x="756.5">8</text><text x="765.8">10</text><text x="775.1">12</text><text x="784.4">14</text><text x="793.7">16</text><text x="803.0">18</text><text x="812.4">20</text>
<text x="821.7">2</text><text x="831.0">4</text><text x="840.3">6</text><text x="849.6">8</text><text x="858.9">10</text><text x="868.2">12</text><text x="877.5">14</text><text x="886.8">16</text><text x="896.1">18</text><text x="905.5">20</text><text x="914.8">22</text>
<text x="924.1">2</text><text x="933.4">4</text><text x="942.7">6</text><text x="952.0">8</text><text x="961.3">10</text><text x="970.6">12</text><text x="979.9">14</text><text x="989.2">16</text><text x="998.6">18</text><text x="1007.9">20</text>
<text x="1017.2">2</text><text x="1026.5">4</text><text x="1035.8">6</text><text x="1045.1">8</text><text x="1054.4">10</text><text x="1063.7">12</text><text x="1073.0">14</text><text x="1082.3">16</text><text x="1091.7">18</text><text x="1101.0">20</text><text x="1110.3">22</text>
<text x="1119.6">2</text><text x="1128.9">4</text><text x="1138.2">6</text><text x="1147.5">8</text><text x="1156.8">10</text><text x="1166.1">12</text><text x="1175.4">14</text><text x="1184.8">16</text><text x="1194.1">18</text><text x="1203.4">20</text>
<text x="1212.7">2</text><text x="1222.0">4</text><text x="1231.3">6</text><text x="1240.6">8</text><text x="1249.9">10</text><text x="1259.2">12</text><text x="1268.5">14</text><text x="1277.9">16</text><text x="1287.2">18</text><text x="1296.5">20</text><text x="1305.8">22</text>
<text x="1315.1">2</text><text x="1324.4">4</text><text x="1333.7">6</text><text x="1343.0">8</text><text x="1352.3">10</text><text x="1361.6">12</text><text x="1371.0">14</text><text x="1380.3">16</text><text x="1389.6">18</text><text x="1398.9">20</text>
<text x="1408.2">2</text><text x="1417.5">4</text><text x="1426.8">6</text><text x="1436.1">8</text><text x="1445.4">10</text><text x="1454.7">12</text><text x="1464.1">14</text><text x="1473.4">16</text><text x="1482.7">18</text><text x="1492.0">20</text>
</g>
<g class="n2" transform="translate(0,734)">
<text x="626.2">2</text><text x="635.5">4</text><text x="644.8">6</text><text x="654.1">8</text><text x="663.4">10</text><text x="672.7">12</text><text x="682.0">14</text><text x="691.3">16</text><text x="700.6">18</text><text x="709.9">20</text><text x="719.3">22</text><text x="728.6">24</text><text x="737.9">26</text><text x="747.2">28</text><text x="756.5">30</text><text x="765.8">32</text><text x="775.1">34</text><text x="784.4">36</text><text x="793.7">38</text><text x="803.0">40</text><text x="812.4">42</text><text x="821.7">44</text><text x="831.0">46</text><text x="840.3">48</text><text x="849.6">50</text><text x="858.9">52</text><text x="868.2">54</text><text x="877.5">56</text><text x="886.8">58</text><text x="896.1">60</text><text x="905.5">62</text><text x="914.8">64</text><text x="924.1">66</text><text x="933.4">68</text><text x="942.7">70</text><text x="952.0">72</text><text x="961.3">74</text><text x="970.6">76</text><text x="979.9">78</text><text x="989.2">80</text><text x="998.6">82</text><text x="1007.9">84</text><text x="1017.2">86</text><text x="1026.5">88</text><text x="1035.8">90</text><text x="1045.1">92</text><text x="1054.4">94</text><text x="1063.7">96</text><text x="1073.0">98</text><text x="1082.3">100</text><text x="1091.7">102</text><text x="1101.0">104</text><text x="1110.3">106</text><text x="1119.6">108</text><text x="1128.9">110</text><text x="1138.2">112</text><text x="1147.5">114</text><text x="1156.8">116</text><text x="1166.1">118</text><text x="1175.4">120</text><text x="1184.8">122</text><text x="1194.1">124</text><text x="1203.4">126</text><text x="1212.7">128</text><text x="1222.0">130</text><text x="1231.3">132</text><text x="1240.6">134</text><text x="1249.9">136</text><text x="1259.2">138</text><text x="1268.5">140</text><text x="1277.9">142</text><text x="1287.2">144</text><text x="1296.5">146</text><text x="1305.8">148</text><text x="1315.1">150</text><text x="1324.4">152</text><text x="1333.7">154</text><text x="1343.0">156</text><text x="1352.3">158</text><text x="1361.6">160</text><text x="1371.0">162</text><text x="1380.3">164</text><text x="1389.6">166</text><text x="1398.9">168</text><text x="1408.2">170</text><text x="1417.5">172</text><text x="1426.8">174</text><text x="1436.1">176</text><text x="1445.4">178</text><text x="1454.7">180</text><text x="1464.1">182</text><text x="1473.4">184</text><text x="1482.7">186</text><text x="1492.0">188</text>
</g>
<text x="504.5" y="721" font-size="7" class="c">Найменування</text>
<text x="570" y="721" font-size="6.5" class="c">од. вим.</text>
<text x="603" y="721" font-size="6.5" class="c">кіл-ть</text>
<g font-size="5.2">
<text x="455" y="743.3">1. Бетон</text><text x="455" y="752.6">2. Розчин</text><text x="455" y="761.9">3. Цегла</text><text x="455" y="771.3">4. Збірні конструкції</text><text x="455" y="780.6">5.  Утеплювач</text><text x="455" y="789.9">6.  Матеріали рулонні</text><text x="455" y="799.3">7. Гравій</text><text x="455" y="808.6">8. Щебінь</text><text x="455" y="817.9">9. Асфальтобетон</text><text x="455" y="827.3">10. Керамічна плитка</text><text x="455" y="836.6">11. Мастика</text><text x="455" y="845.9">12. Фарба</text>
</g>
<g font-size="5" class="c">
<text x="570" y="743.3" class="c">м³</text><text x="570" y="752.6" class="c">м³</text><text x="570" y="761.9" class="c">тис.шт</text><text x="570" y="771.3" class="c">шт</text><text x="570" y="780.6" class="c">м³</text><text x="570" y="789.9" class="c">м²</text><text x="570" y="799.3" class="c">м³</text><text x="570" y="808.6" class="c">м³</text><text x="570" y="817.9" class="c">т</text><text x="570" y="827.3" class="c">м²</text><text x="570" y="836.6" class="c">т</text><text x="570" y="845.9" class="c">т</text>
</g>
<g font-size="6.5">
<text x="603" y="743.5" class="c">259</text><text x="603" y="752.8" class="c">135</text><text x="603" y="762.1" class="c">48</text><text x="603" y="771.5" class="c">513</text><text x="603" y="780.8" class="c">2296</text><text x="603" y="790.1" class="c">161</text><text x="603" y="799.5" class="c">23</text><text x="603" y="808.8" class="c">145</text><text x="603" y="818.1" class="c">2</text><text x="603" y="827.5" class="c">172</text><text x="603" y="836.8" class="c" font-size="5">25</text><text x="603" y="846.1" class="c" font-size="5">0,246</text>
</g>
<g stroke="#111" stroke-width="1.1" fill="none" stroke-dasharray="4 1.6">
<path d="M752 740.4H873M1217 740.4H1417M942 749.7H1416M1073 759H1217M863 768.4H881M933 768.4H1217M1073 777.7H1319M872 787H910M1073 787H1319M1073 796.4H1319M1207 805.7H1407M1361 815H1407M1310 824.3H1417M872 833.7H910M1073 833.7H1319M1346 843H1417"/>
</g>
<g stroke="#111" stroke-width="0.9" fill="none">
<path d="M752 742.4H873M1217 742.4H1417M942 751.7H1416M1082 761H1217M871 770.4H881M942 770.4H1217M1082 779.7H1319M880 789H910M1082 789H1319M1082 798.4H1319M1217 807.7H1407M1371 817H1407M1318 826.3H1417M880 835.7H910M1082 835.7H1319M1356 845H1417"/>
</g>

<!-- ===== MACHINES ===== -->
<rect x="435" y="896" width="1062" height="93.6" fill="url(#rowsK)"/>
<rect x="621.5" y="877" width="875.5" height="112.6" fill="url(#vcol)"/>
<g stroke="#444" stroke-width="0.5"><path d="M723.9 867.7V989.6M817 867.7V989.6M919.4 867.7V989.6M1012.5 867.7V989.6M1114.9 867.7V989.6M1208 867.7V989.6M1310.4 867.7V989.6M1403.5 867.7V989.6"/></g>
<g stroke="#111" stroke-width="0.6" fill="none"><path d="M621.5 867.7H1497M621.5 877H1497M621.5 886.7H1497M537.6 859V989.6M565 859V989.6M593 859V989.6"/></g>
<g stroke="#111" stroke-width="1.1" fill="none"><rect x="435" y="859" width="1062" height="130.6"/><path d="M435 896H1497M621.5 859V989.6"/></g>
<text x="1060" y="865.7" font-size="6" class="c">2022 рік</text>
<g class="m" transform="translate(0,810)">
<text x="672.7" y="65">березень</text><text x="770.5" y="65">квітень</text><text x="868.2" y="65">травень</text><text x="966" y="65">червень</text><text x="1063.7" y="65">липень</text><text x="1161.5" y="65">серпень</text><text x="1259.2" y="65">вересень</text><text x="1357" y="65">жовтень</text><text x="1450.1" y="65">листопад</text>
</g>
<g class="n" transform="translate(0,884.2)">
<text x="626.2">2</text><text x="635.5">4</text><text x="644.8">6</text><text x="654.1">8</text><text x="663.4">10</text><text x="672.7">12</text><text x="682.0">14</text><text x="691.3">16</text><text x="700.6">18</text><text x="709.9">20</text><text x="719.3">22</text>
<text x="728.6">2</text><text x="737.9">4</text><text x="747.2">6</text><text x="756.5">8</text><text x="765.8">10</text><text x="775.1">12</text><text x="784.4">14</text><text x="793.7">16</text><text x="803.0">18</text><text x="812.4">20</text>
<text x="821.7">2</text><text x="831.0">4</text><text x="840.3">6</text><text x="849.6">8</text><text x="858.9">10</text><text x="868.2">12</text><text x="877.5">14</text><text x="886.8">16</text><text x="896.1">18</text><text x="905.5">20</text><text x="914.8">22</text>
<text x="924.1">2</text><text x="933.4">4</text><text x="942.7">6</text><text x="952.0">8</text><text x="961.3">10</text><text x="970.6">12</text><text x="979.9">14</text><text x="989.2">16</text><text x="998.6">18</text><text x="1007.9">20</text>
<text x="1017.2">2</text><text x="1026.5">4</text><text x="1035.8">6</text><text x="1045.1">8</text><text x="1054.4">10</text><text x="1063.7">12</text><text x="1073.0">14</text><text x="1082.3">16</text><text x="1091.7">18</text><text x="1101.0">20</text><text x="1110.3">22</text>
<text x="1119.6">2</text><text x="1128.9">4</text><text x="1138.2">6</text><text x="1147.5">8</text><text x="1156.8">10</text><text x="1166.1">12</text><text x="1175.4">14</text><text x="1184.8">16</text><text x="1194.1">18</text><text x="1203.4">20</text>
<text x="1212.7">2</text><text x="1222.0">4</text><text x="1231.3">6</text><text x="1240.6">8</text><text x="1249.9">10</text><text x="1259.2">12</text><text x="1268.5">14</text><text x="1277.9">16</text><text x="1287.2">18</text><text x="1296.5">20</text><text x="1305.8">22</text>
<text x="1315.1">2</text><text x="1324.4">4</text><text x="1333.7">6</text><text x="1343.0">8</text><text x="1352.3">10</text><text x="1361.6">12</text><text x="1371.0">14</text><text x="1380.3">16</text><text x="1389.6">18</text><text x="1398.9">20</text>
<text x="1408.2">2</text><text x="1417.5">4</text><text x="1426.8">6</text><text x="1436.1">8</text><text x="1445.4">10</text><text x="1454.7">12</text><text x="1464.1">14</text><text x="1473.4">16</text><text x="1482.7">18</text><text x="1492.0">20</text>
</g>
<g class="n2" transform="translate(0,893.3)">
<text x="626.2">2</text><text x="635.5">4</text><text x="644.8">6</text><text x="654.1">8</text><text x="663.4">10</text><text x="672.7">12</text><text x="682.0">14</text><text x="691.3">16</text><text x="700.6">18</text><text x="709.9">20</text><text x="719.3">22</text><text x="728.6">24</text><text x="737.9">26</text><text x="747.2">28</text><text x="756.5">30</text><text x="765.8">32</text><text x="775.1">34</text><text x="784.4">36</text><text x="793.7">38</text><text x="803.0">40</text><text x="812.4">42</text><text x="821.7">44</text><text x="831.0">46</text><text x="840.3">48</text><text x="849.6">50</text><text x="858.9">52</text><text x="868.2">54</text><text x="877.5">56</text><text x="886.8">58</text><text x="896.1">60</text><text x="905.5">62</text><text x="914.8">64</text><text x="924.1">66</text><text x="933.4">68</text><text x="942.7">70</text><text x="952.0">72</text><text x="961.3">74</text><text x="970.6">76</text><text x="979.9">78</text><text x="989.2">80</text><text x="998.6">82</text><text x="1007.9">84</text><text x="1017.2">86</text><text x="1026.5">88</text><text x="1035.8">90</text><text x="1045.1">92</text><text x="1054.4">94</text><text x="1063.7">96</text><text x="1073.0">98</text><text x="1082.3">100</text><text x="1091.7">102</text><text x="1101.0">104</text><text x="1110.3">106</text><text x="1119.6">108</text><text x="1128.9">110</text><text x="1138.2">112</text><text x="1147.5">114</text><text x="1156.8">116</text><text x="1166.1">118</text><text x="1175.4">120</text><text x="1184.8">122</text><text x="1194.1">124</text><text x="1203.4">126</text><text x="1212.7">128</text><text x="1222.0">130</text><text x="1231.3">132</text><text x="1240.6">134</text><text x="1249.9">136</text><text x="1259.2">138</text><text x="1268.5">140</text><text x="1277.9">142</text><text x="1287.2">144</text><text x="1296.5">146</text><text x="1305.8">148</text><text x="1315.1">150</text><text x="1324.4">152</text><text x="1333.7">154</text><text x="1343.0">156</text><text x="1352.3">158</text><text x="1361.6">160</text><text x="1371.0">162</text><text x="1380.3">164</text><text x="1389.6">166</text><text x="1398.9">168</text><text x="1408.2">170</text><text x="1417.5">172</text><text x="1426.8">174</text><text x="1436.1">176</text><text x="1445.4">178</text><text x="1454.7">180</text><text x="1464.1">182</text><text x="1473.4">184</text><text x="1482.7">186</text><text x="1492.0">188</text>
</g>
<text x="486" y="880" font-size="7" class="c">Найменування</text>
<text x="551.3" y="880" font-size="6.5" class="c">од. вим.</text>
<text x="579" y="880" font-size="6.5" class="c">кіл-ть</text>
<text x="607" y="875" font-size="6.5" class="c">змін-</text><text x="607" y="884" font-size="6.5" class="c">ність</text>
<g font-size="5.4">
<text x="436.5" y="902.6">1. Штукатурна станція СО-112</text><text x="436.5" y="912">2. Малярна станція СОРП-1</text><text x="436.5" y="921.3">3. Розчинонасос СО-10</text><text x="436.5" y="930.7">4. Бетононасос</text><text x="436.5" y="940">5. Підйомач С-447М</text><text x="436.5" y="949.4">6. Кран</text><text x="436.5" y="958.8">7. Трамбовка І-4506</text><text x="436.5" y="968.1">8. Каток Д-480</text><text x="436.5" y="977.5">9. Екскаватор ЭО-3322А</text><text x="436.5" y="986.8">10. Бульдозер ДЗ-8</text>
</g>
<g font-size="5">
<text x="551.3" y="902.6" class="c">шт</text><text x="551.3" y="912" class="c">шт</text><text x="551.3" y="921.3" class="c">шт</text><text x="551.3" y="930.7" class="c">шт</text><text x="551.3" y="940" class="c">шт</text><text x="551.3" y="949.4" class="c">шт</text><text x="551.3" y="958.8" class="c">шт</text><text x="551.3" y="968.1" class="c">шт</text><text x="551.3" y="977.5" class="c">шт</text><text x="551.3" y="986.8" class="c">шт</text>
<text x="579" y="902.6" class="c">1</text><text x="579" y="912" class="c">1</text><text x="579" y="921.3" class="c">1</text><text x="579" y="930.7" class="c">1</text><text x="579" y="940" class="c">1</text><text x="579" y="949.4" class="c">1</text><text x="579" y="958.8" class="c">1</text><text x="579" y="968.1" class="c">1</text><text x="579" y="977.5" class="c">1</text><text x="579" y="986.8" class="c">1</text>
<text x="607" y="902.6" class="c">1</text><text x="607" y="912" class="c">1</text><text x="607" y="921.3" class="c">1</text><text x="607" y="930.7" class="c">2</text><text x="607" y="940" class="c">1</text><text x="607" y="949.4" class="c">2</text><text x="607" y="958.8" class="c">2</text><text x="607" y="968.1" class="c">2</text><text x="607" y="977.5" class="c">2</text><text x="607" y="986.8" class="c">2</text>
</g>
<g stroke="#111" stroke-width="1.1" fill="none">
<path d="M1217 901H1357M1357 910.3H1417M942 919H1417M752 928H873M1217 930H1417M1082 939H1319M872 946H882M942 946H1217M910 954.5H944M1217 956H1366M1370 956H1409M910 964.8H944M691 974H752M621.5 983H692M910 985H944"/>
</g>

<!-- ===== TEP tables ===== -->
<g stroke="#111" stroke-width="0.6" fill="none">
<path d="M728.8 1016H784.5M756.3 1016V1092.2M701 1000.4V1092.2M728.8 1000.4V1092.2M514.4 1046H784.5M514.4 1061H784.5M514.4 1076.5H784.5"/>
<path d="M1018.5 1016H1073M1046 1016V1092.2M990.8 1000.4V1092.2M1018.5 1000.4V1092.2M802.7 1046H1073M802.7 1061H1073M802.7 1076.5H1073"/>
</g>
<g stroke="#111" stroke-width="1.1" fill="none">
<rect x="514.4" y="1000.4" width="270.1" height="91.8"/><path d="M514.4 1030.7H784.5"/>
<rect x="802.7" y="1000.4" width="270.3" height="91.8"/><path d="M802.7 1030.7H1073"/>
</g>
<text x="607.7" y="1021" font-size="10" class="c">Найменування</text>
<text x="715" y="1019" font-size="5.8" class="c">од. вим</text>
<text x="756.6" y="1011" font-size="5.8" class="c">Показники</text>
<text x="742.5" y="1026" font-size="5.5" class="c">норм.</text><text x="770.4" y="1026" font-size="5.5" class="c">прийн.</text>
<g font-size="4.4">
<text x="516" y="1040.5">1. Тривалість будівництва</text><text x="516" y="1055.5">2. Загальна трудомісткість</text><text x="516" y="1070.5">3. Трудомісткість на 1м³ будівлі</text><text x="516" y="1086">4. Продуктивність праці</text>
<text x="715" y="1040.5" class="c">міс.</text><text x="715" y="1055.5" class="c">люд-дн</text><text x="715" y="1067" class="c">люд-дн</text><text x="715" y="1074" class="c">м³</text><text x="715" y="1086" class="c">%</text>
</g>
<g font-size="5.8">
<text x="742.5" y="1041" class="c">9</text><text x="770.4" y="1041" class="c">8</text>
<text x="742.5" y="1056" class="c">5379,19</text><text x="770.4" y="1056" class="c">5154</text>
<text x="742.5" y="1071" class="c">0,113</text><text x="770.4" y="1071" class="c">0,108</text>
<text x="742.5" y="1086.5" class="c">100</text><text x="770.4" y="1086.5" class="c">104</text>
</g>
<text x="896.8" y="1019" font-size="6.3" class="c">Найменування</text>
<text x="1004.6" y="1019" font-size="5.8" class="c">од. вим</text>
<text x="1045.7" y="1011" font-size="5.8" class="c">Показники</text>
<text x="1032" y="1026" font-size="5.5" class="c">норм.</text><text x="1059.5" y="1026" font-size="5.5" class="c">прийн.</text>
<g font-size="6">
<text x="805" y="1041">5. Коефіцієнт нерівномірності праці робітників</text>
<text x="805" y="1056">6. Охоплення комплексної механізації</text>
<text x="805" y="1071">7. Коефіцієнт суміщення будівельних процесів у часі</text>
<text x="805" y="1086.5">8. Коефіцієнт змінності</text>
<text x="1004.6" y="1056" class="c">%</text>
<text x="1032" y="1041" class="c">2</text><text x="1059.5" y="1041" class="c">1,85</text>
<text x="1059.5" y="1056" class="c">56</text><text x="1059.5" y="1071" class="c">3,5</text><text x="1059.5" y="1086.5" class="c">1,21</text>
</g>

<!-- ===== title block ===== -->
<g stroke="#111" stroke-width="0.5" fill="none">
<path d="M1213 999.8H1334M1213 1005H1334M1213 1024.7H1334M1213 1034.6H1334M1213 1053.6H1334M1213 1063H1334M1213 1082H1334M1213 1091.5H1334M1464 1053H1558"/>
</g>
<g stroke="#111" stroke-width="0.9" fill="none">
<path d="M1213 995V1101M1231.5 995V1044M1250 995V1101M1287 995V1101M1315 995V1101M1334 995V1101M1213 1014.6H1334M1213 1044H1558M1213 1072.5H1558M1334 1014.6H1558M1464 1044V1101M1491.8 1044V1072.5M1519 1044V1072.5M1213 995H1558"/>
</g>
<text x="1441.5" y="1008" font-size="9" class="c">192 КП ТіОБВ</text>
<text x="1441.5" y="1036" font-size="15" class="c">Завод підйомних машин</text>
<text x="1399" y="1057" font-size="9.5" class="c">Цех з ремонту підйомно-</text>
<text x="1399" y="1069" font-size="9.5" class="c">транспортного обладнання</text>
<text x="1399" y="1085" font-size="9.5" class="c">Календарний  графік</text>
<text x="1399" y="1097" font-size="9.5" class="c">виробництва робіт</text>
<g font-size="4.3">
<text x="1478" y="1050.5" class="c">Стадія</text><text x="1505.4" y="1050.5" class="c">Лист</text><text x="1538" y="1050.5" class="c">Листів</text>
<text x="1214" y="1042">Вим</text><text x="1233" y="1042">Лист</text><text x="1260" y="1042">№ док.</text><text x="1292" y="1042">Підпис</text><text x="1318" y="1042">Дата</text>
<text x="1214" y="1050">Розробив</text><text x="1214" y="1058">Консультант</text>
</g>
<text x="1478" y="1069" font-size="10" class="c">Н</text><text x="1505.4" y="1069" font-size="10" class="c">2</text><text x="1538" y="1069" font-size="10" class="c">2</text>
<text x="1511" y="1091" font-size="10" class="c">МБК гр С-41</text>
</svg>
</body></html>
